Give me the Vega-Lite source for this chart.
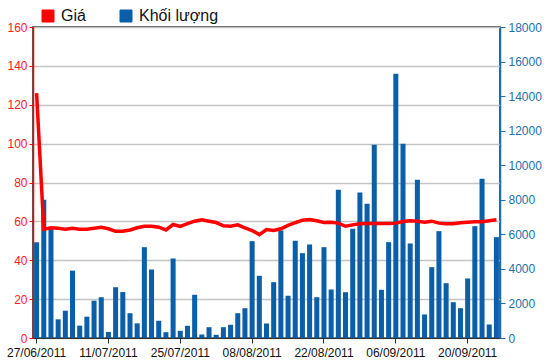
{
  "$schema": "https://vega.github.io/schema/vega-lite/v6.json",
  "width": 467,
  "height": 311,
  "autosize": {"type": "none"},
  "padding": {"left": 33, "top": 27, "right": 50, "bottom": 26},
  "background": "white",
  "config": {
    "font": "Liberation Sans",
    "view": {"stroke": "#222222", "strokeWidth": 1.5}
  },
  "data": {
    "values": [
      {"i": 0, "d": "27/06/2011", "vol": 5540, "price": 126},
      {"i": 1, "d": "28/06/2011", "vol": 8000, "price": 56},
      {"i": 2, "d": "29/06/2011", "vol": 6300, "price": 56.7},
      {"i": 3, "d": "30/06/2011", "vol": 1080, "price": 56.5},
      {"i": 4, "d": "01/07/2011", "vol": 1580, "price": 56},
      {"i": 5, "d": "04/07/2011", "vol": 3900, "price": 56.5},
      {"i": 6, "d": "05/07/2011", "vol": 715, "price": 56},
      {"i": 7, "d": "06/07/2011", "vol": 1235, "price": 56},
      {"i": 8, "d": "07/07/2011", "vol": 2160, "price": 56.5},
      {"i": 9, "d": "08/07/2011", "vol": 2360, "price": 57},
      {"i": 10, "d": "11/07/2011", "vol": 350, "price": 56.2},
      {"i": 11, "d": "12/07/2011", "vol": 2940, "price": 54.9},
      {"i": 12, "d": "13/07/2011", "vol": 2660, "price": 54.9},
      {"i": 13, "d": "14/07/2011", "vol": 1436, "price": 55.6},
      {"i": 14, "d": "15/07/2011", "vol": 850, "price": 56.7},
      {"i": 15, "d": "18/07/2011", "vol": 5257, "price": 57.5},
      {"i": 16, "d": "19/07/2011", "vol": 3966, "price": 57.5},
      {"i": 17, "d": "20/07/2011", "vol": 996, "price": 57},
      {"i": 18, "d": "21/07/2011", "vol": 336, "price": 55.6},
      {"i": 19, "d": "22/07/2011", "vol": 4603, "price": 58.4},
      {"i": 20, "d": "25/07/2011", "vol": 417, "price": 57.4},
      {"i": 21, "d": "26/07/2011", "vol": 706, "price": 58.8},
      {"i": 22, "d": "27/07/2011", "vol": 2501, "price": 60.1},
      {"i": 23, "d": "28/07/2011", "vol": 203, "price": 60.8},
      {"i": 24, "d": "29/07/2011", "vol": 625, "price": 60.1},
      {"i": 25, "d": "01/08/2011", "vol": 185, "price": 59.4},
      {"i": 26, "d": "02/08/2011", "vol": 625, "price": 57.7},
      {"i": 27, "d": "03/08/2011", "vol": 764, "price": 57.5},
      {"i": 28, "d": "04/08/2011", "vol": 1436, "price": 58.2},
      {"i": 29, "d": "05/08/2011", "vol": 1725, "price": 56.7},
      {"i": 30, "d": "08/08/2011", "vol": 5605, "price": 55.3},
      {"i": 31, "d": "09/08/2011", "vol": 3601, "price": 53.2},
      {"i": 32, "d": "10/08/2011", "vol": 840, "price": 55.8},
      {"i": 33, "d": "11/08/2011", "vol": 3231, "price": 55.3},
      {"i": 34, "d": "12/08/2011", "vol": 6222, "price": 56.2},
      {"i": 35, "d": "15/08/2011", "vol": 2443, "price": 57.9},
      {"i": 36, "d": "16/08/2011", "vol": 5628, "price": 59.3},
      {"i": 37, "d": "17/08/2011", "vol": 4910, "price": 60.6},
      {"i": 38, "d": "18/08/2011", "vol": 5413, "price": 61},
      {"i": 39, "d": "19/08/2011", "vol": 2362, "price": 60.3},
      {"i": 40, "d": "22/08/2011", "vol": 5257, "price": 59.4},
      {"i": 41, "d": "23/08/2011", "vol": 2808, "price": 59.6},
      {"i": 42, "d": "24/08/2011", "vol": 8580, "price": 59.1},
      {"i": 43, "d": "25/08/2011", "vol": 2652, "price": 57.5},
      {"i": 44, "d": "26/08/2011", "vol": 6323, "price": 58.2},
      {"i": 45, "d": "29/08/2011", "vol": 8424, "price": 58.8},
      {"i": 46, "d": "30/08/2011", "vol": 7770, "price": 58.9},
      {"i": 47, "d": "31/08/2011", "vol": 11186, "price": 58.9},
      {"i": 48, "d": "01/09/2011", "vol": 2790, "price": 58.9},
      {"i": 49, "d": "05/09/2011", "vol": 5547, "price": 58.9},
      {"i": 50, "d": "06/09/2011", "vol": 15297, "price": 59.1},
      {"i": 51, "d": "07/09/2011", "vol": 11244, "price": 59.9},
      {"i": 52, "d": "08/09/2011", "vol": 5472, "price": 60.3},
      {"i": 53, "d": "09/09/2011", "vol": 9160, "price": 60.1},
      {"i": 54, "d": "12/09/2011", "vol": 1361, "price": 59.6},
      {"i": 55, "d": "13/09/2011", "vol": 4100, "price": 60.1},
      {"i": 56, "d": "14/09/2011", "vol": 6184, "price": 59.1},
      {"i": 57, "d": "15/09/2011", "vol": 3173, "price": 58.8},
      {"i": 58, "d": "16/09/2011", "vol": 2073, "price": 58.8},
      {"i": 59, "d": "19/09/2011", "vol": 1725, "price": 59.3},
      {"i": 60, "d": "20/09/2011", "vol": 3445, "price": 59.6},
      {"i": 61, "d": "21/09/2011", "vol": 6473, "price": 59.8},
      {"i": 62, "d": "22/09/2011", "vol": 9218, "price": 59.8},
      {"i": 63, "d": "23/09/2011", "vol": 782, "price": 60.3},
      {"i": 64, "d": "26/09/2011", "vol": 5836, "price": 60.8}
    ]
  },
  "encoding": {
    "x": {
      "field": "d",
      "type": "ordinal",
      "sort": {"field": "i"},
      "scale": {"paddingInner": 0.3, "paddingOuter": 0.15},
      "axis": {
        "title": null,
        "values": ["27/06/2011", "11/07/2011", "25/07/2011", "08/08/2011", "22/08/2011", "06/09/2011", "20/09/2011"],
        "labelAngle": 0,
        "labelFontSize": 12,
        "labelColor": "#111111",
        "labelPadding": 4,
        "tickSize": 5,
        "tickColor": "#333333",
        "domainColor": "#333333",
        "grid": false
      }
    }
  },
  "layer": [
    {
      "mark": {"type": "bar", "color": "#0a5fa8"},
      "encoding": {
        "y": {
          "field": "vol",
          "type": "quantitative",
          "scale": {"domain": [0, 18000], "nice": false},
          "axis": {
            "orient": "right",
            "title": null,
            "format": "d",
            "values": [0, 2000, 4000, 6000, 8000, 10000, 12000, 14000, 16000, 18000],
            "grid": false,
            "labelColor": "#2070b0",
            "labelFontSize": 12,
            "tickColor": "#2070b0",
            "domainColor": "#2070b0",
            "domainWidth": 1.5,
            "tickSize": 5,
            "labelPadding": 3
          }
        },
        "color": {
          "datum": "Khối lượng",
          "type": "nominal",
          "scale": {"domain": ["Giá", "Khối lượng"], "range": ["#ff0000", "#0a5fa8"]},
          "legend": {
            "title": null,
            "orient": "none",
            "legendX": 7,
            "legendY": -19,
            "direction": "horizontal",
            "symbolType": "square",
            "symbolSize": 144,
            "symbolStrokeColor": "#333333",
            "symbolStrokeWidth": 1,
            "labelFontSize": 16,
            "labelColor": "#111111",
            "labelOffset": 5,
            "columnPadding": 32,
            "encode": {"symbols": {"update": {"fill": {"scale": "color", "field": "value"}, "opacity": {"value": 1}}}}
          }
        }
      }
    },
    {
      "mark": {"type": "line", "color": "#ff0000", "strokeWidth": 3.5},
      "encoding": {
        "y": {
          "field": "price",
          "type": "quantitative",
          "scale": {"domain": [0, 160], "nice": false},
          "axis": {
            "orient": "left",
            "title": null,
            "values": [0, 20, 40, 60, 80, 100, 120, 140, 160],
            "grid": true,
            "gridColor": "#c4c4c4",
            "gridWidth": 1.5,
            "labelColor": "#ff2020",
            "labelFontSize": 12,
            "tickColor": "#ff0000",
            "domainColor": "#ff0000",
            "domainWidth": 1.5,
            "tickSize": 4,
            "labelPadding": 2
          }
        },
        "color": {"datum": "Giá", "type": "nominal"}
      }
    }
  ],
  "resolve": {"scale": {"y": "independent"}}
}
